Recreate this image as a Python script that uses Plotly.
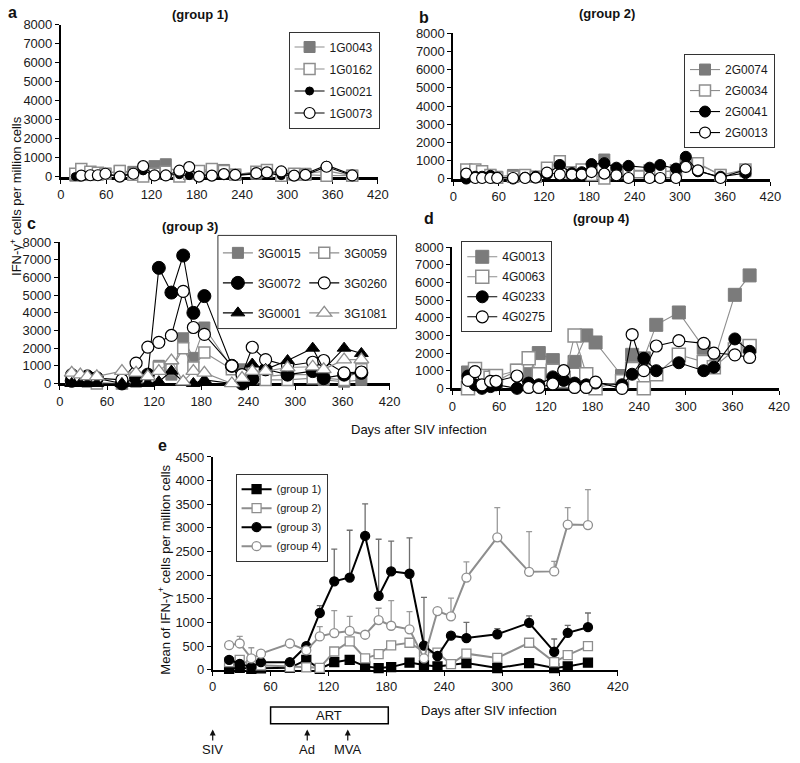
import plotly.graph_objects as go

W, H = 800, 763
FONT = "Liberation Sans, Arial, sans-serif"


def px_x(p):
    return p / W


def px_y(p):
    return 1 - p / H


# ---------------- data ----------------
ticks_x = [0, 60, 120, 180, 240, 300, 360, 420]

# panel a (group 1)
days_a = [19, 27, 39, 49, 59, 78, 96, 109, 124, 139, 157, 170, 183, 200, 216, 231, 259, 273, 292, 309, 324, 352, 386]
g1_0043 = [50, 100, 80, 100, 150, 300, 250, 200, 550, 650, 100, 200, 250, 300, 350, 100, 150, 250, 50, 100, 150, 300, 50]
g1_0162 = [150, 400, 250, 200, 150, 300, 100, 0, 150, 250, 0, 150, 300, 400, 300, 100, 250, 350, 50, 150, 100, 50, 50]
g1_0021 = [0, 50, 50, 80, 100, 50, 150, 300, 100, 100, 100, 50, 80, 100, 100, 50, 150, 200, 50, 100, 150, 600, 100]
g1_0073 = [None, 50, 70, 70, 150, 0, 150, 550, 60, 60, 310, 500, 0, 50, 130, 90, 180, 220, 270, 50, 90, 520, 60]

# panel b (group 2)
days_b = [17, 29, 38, 49, 58, 79, 95, 109, 124, 141, 157, 170, 183, 200, 216, 232, 260, 274, 295, 308, 324, 354, 387]
g2_0074 = [400, 400, 300, 200, 100, 200, 150, 100, 500, 900, 350, 400, 500, 1050, 450, 400, 400, 400, 400, 900, 800, 200, 400]
g2_0034 = [500, 500, 400, 200, 50, 100, 200, 100, 600, 950, 300, 500, 200, 0, 300, 450, 450, 350, 450, 800, 850, 200, 500]
g2_0041 = [0, 100, 100, 150, 50, 0, 50, 100, 250, 750, 300, 350, 800, 850, 600, 700, 600, 750, 550, 1200, 400, 100, 300]
g2_0013 = [270, 30, 30, 30, 30, 30, 30, 50, 330, 220, 220, 220, 360, 270, 180, 30, 30, 30, 30, 640, 450, 30, 500]

# panel c (group 3)
days_c = [15, 26, 35, 47, 79, 97, 112, 126, 142, 157, 170, 184, 219, 232, 245, 262, 290, 322, 336, 362, 384]
g3_0015 = [200, 150, 100, 50, 0, 100, 200, 1000, 500, 2560, 1450, 3170, 900, 800, 400, 400, 500, 500, 200, 100, 200]
g3_0059 = [300, 200, 200, 0, 0, 200, 300, 900, 800, 2000, 900, 1750, 800, 400, 300, 200, 200, 300, 300, 200, 800]
g3_0072 = [150, 250, 400, 300, 0, 300, 500, 6550, 5150, 7250, 4000, 4950, 1000, 0, 250, 800, 500, 700, 300, 500, 600]
g3_0260 = [500, 350, 300, 300, 200, 1150, 2060, 2330, 2720, 5220, 3170, 2780, 1000, 500, 2050, 1350, 1000, 1200, 1300, 600, 650]
g3_0001 = [0, 0, 0, 0, 0, 0, 0, 100, 700, 100, 0, 200, 0, 0, 1100, 800, 1300, 2000, 800, 2000, 1700]
g3_1081 = [600, 500, 400, 400, 700, 600, 400, 700, 1300, 100, 700, 600, 0, 300, 700, 700, 900, 950, 800, 1350, 1350]

# panel d (group 4)
days_d = [20, 29, 38, 49, 56, 83, 98, 111, 129, 143, 157, 172, 184, 218, 231, 246, 262, 291, 323, 336, 363, 382]
g4_0013 = [900, 1000, 600, 500, 400, 1000, 800, 2000, 1600, 600, 1500, 3000, 2600, 700, 1900, 1700, 3600, 4300, 2300, 1500, 5300, 6400]
g4_0063 = [0, 1100, 700, 600, 700, 1000, 1700, 800, 1000, 400, 3000, 800, 0, 400, 1100, 0, 800, 1900, 1500, 1200, 2200, 2400]
g4_0233 = [700, 200, 0, 100, 200, 0, 300, 200, 650, 450, 300, 200, 300, 200, 800, 1700, 1000, 1450, 1000, 1200, 2800, 2100]
g4_0275 = [450, 950, 200, 400, 400, 700, 50, 50, 250, 1000, 50, 50, 350, 0, 3050, 1000, 2400, 2700, 2550, 2000, 1900, 1750]

# panel e (group means)
days_e = [17, 28, 40, 50, 80, 97, 111, 126, 142, 158, 172, 185, 204, 219, 233, 247, 263, 295, 328, 354, 368, 389]
mean_g1 = [20, 40, 20, 30, 40, 210, 20, 160, 210, 70, 35, 55, 150, 100, 70, None, 140, 35, 140, 35, 70, 150]
mean_g2 = [160, 210, 100, 90, 55, 50, 40, 385, 600, 240, 330, 515, 570, 380, 360, 120, 340, 250, 570, 160, 310, 500]
mean_g3 = [210, 125, 55, 160, 160, 500, 1200, 1870, 1950, 2830, 1560, 2080, 2030, 510, 290, 720, 670, 750, 990, 380, 780, 900]
mean_g4 = [520, 555, 240, 340, 555, 410, 705, 775, 820, 740, 1050, 930, 855, 240, 1240, 1130, 1950, 2800, 2070, 2080, 3070, 3060]
err_g3 = [None, None, None, None, None, None, 155, 680, 1000, 680, 1200, 640, 760, 1020, None, None, 330, 120, 150, 270, 160, 300]
err_g4 = [None, 150, 225, None, None, None, 205, 475, 310, None, 250, 530, 375, None, None, 385, 330, 630, 850, 210, 360, 750]

# treatment annotations (days)
art_start, art_end = 60, 182
events = [("SIV", 0), ("Ad", 98), ("MVA", 140)]

# ---------------- styles ----------------
GREY = "#7b7b7b"
LGREY = "#8e8e8e"
STY = {
    "gsq": dict(symbol="square", color=GREY, lc=GREY, lw=1, line=LGREY),
    "osq": dict(symbol="square", color="white", lc=LGREY, lw=1.5, line=LGREY),
    "bci": dict(symbol="circle", color="black", lc="black", lw=1, line="black"),
    "oci": dict(symbol="circle", color="white", lc="black", lw=1.2, line="black"),
    "btr": dict(symbol="triangle-up", color="black", lc="black", lw=1, line="black"),
    "otr": dict(symbol="triangle-up", color="white", lc=LGREY, lw=1.3, line=LGREY),
}

fig = go.Figure()


def add(x, y, name, sty, xa, ya, legend, size=12, lwidth=1.1):
    s = STY[sty]
    fig.add_trace(go.Scatter(
        x=x, y=y, name=name, mode="lines+markers", connectgaps=True,
        xaxis=xa, yaxis=ya, legend=legend, legendgroup=name,
        cliponaxis=False,
        line=dict(color=s["line"], width=lwidth),
        marker=dict(symbol=s["symbol"], size=size, color=s["color"],
                    line=dict(color=s["lc"], width=s["lw"])),
        hoverinfo="skip",
    ))


# panel a
add(days_a, g1_0043, "1G0043", "gsq", "x", "y", "legend", 11)
add(days_a, g1_0162, "1G0162", "osq", "x", "y", "legend", 11)
add(days_a, g1_0021, "1G0021", "bci", "x", "y", "legend", 8)
add(days_a, g1_0073, "1G0073", "oci", "x", "y", "legend", 11)
# panel b
add(days_b, g2_0074, "2G0074", "gsq", "x2", "y2", "legend2", 11)
add(days_b, g2_0034, "2G0034", "osq", "x2", "y2", "legend2", 11)
add(days_b, g2_0041, "2G0041", "bci", "x2", "y2", "legend2", 11)
add(days_b, g2_0013, "2G0013", "oci", "x2", "y2", "legend2", 11)
# panel c (two legend columns)
add(days_c, g3_0015, "3G0015", "gsq", "x3", "y3", "legend3", 11)
add(days_c, g3_0059, "3G0059", "osq", "x3", "y3", "legend4", 11)
add(days_c, g3_0072, "3G0072", "bci", "x3", "y3", "legend3", 13)
add(days_c, g3_0260, "3G0260", "oci", "x3", "y3", "legend4", 12)
add(days_c, g3_0001, "3G0001", "btr", "x3", "y3", "legend3", 12)
add(days_c, g3_1081, "3G1081", "otr", "x3", "y3", "legend4", 13)
# panel d
add(days_d, g4_0013, "4G0013", "gsq", "x4", "y4", "legend5", 13)
add(days_d, g4_0063, "4G0063", "osq", "x4", "y4", "legend5", 13)
add(days_d, g4_0233, "4G0233", "bci", "x4", "y4", "legend5", 12)
add(days_d, g4_0275, "4G0275", "oci", "x4", "y4", "legend5", 12)


# panel e
def add_mean(y, name, sym, fill, col, err=None, ecol=None):
    kw = {}
    if err is not None:
        kw["error_y"] = dict(type="data", symmetric=False, array=err,
                             arrayminus=[None] * len(err), color=ecol,
                             thickness=1.3, width=3)
    fig.add_trace(go.Scatter(
        x=days_e, y=y, name=name, mode="lines+markers", connectgaps=True,
        xaxis="x5", yaxis="y5", legend="legend6", legendgroup=name,
        cliponaxis=False,
        line=dict(color=col, width=2),
        marker=dict(symbol=sym, size=9, color=fill, line=dict(color=col, width=1.3)),
        hoverinfo="skip", **kw,
    ))


add_mean(mean_g1, "(group 1)", "square", "black", "black")
add_mean(mean_g2, "(group 2)", "square", "white", LGREY)
add_mean(mean_g3, "(group 3)", "circle", "black", "black", err_g3, "#6e6e6e")
add_mean(mean_g4, "(group 4)", "circle", "white", LGREY, err_g4, "#9a9a9a")

# ---------------- axes ----------------
tickfont = dict(family=FONT, size=13, color="#1a1a1a")


def xax(dom, anchor, lw=3):
    return dict(domain=dom, anchor=anchor, range=[0, 420], tickvals=ticks_x,
                showline=True, linecolor="black", linewidth=lw, ticks="outside",
                ticklen=4, tickwidth=1.3, tickcolor="black", showgrid=False,
                zeroline=False, tickfont=tickfont, layer="below traces", fixedrange=True)


def yax(dom, anchor, top=8000, dt=1000, lw=2):
    return dict(domain=dom, anchor=anchor, range=[0, top], dtick=dt,
                showline=True, linecolor="black", linewidth=lw, ticks="outside",
                ticklen=4, tickwidth=1.3, tickcolor="black", showgrid=False,
                zeroline=False, tickfont=tickfont, layer="below traces", fixedrange=True)


layout = dict(
    width=W, height=H, autosize=False,
    margin=dict(l=0, r=0, t=0, b=0),
    paper_bgcolor="white", plot_bgcolor="white",
    font=dict(family=FONT, size=13, color="#1a1a1a"),
    xaxis=xax([px_x(58), px_x(381)], "y"),
    yaxis=yax([px_y(173), px_y(18)], "x"),
    xaxis2=xax([px_x(458), px_x(781)], "y2"),
    yaxis2=yax([px_y(175), px_y(27)], "x2"),
    xaxis3=xax([px_x(57), px_x(393)], "y3"),
    yaxis3=yax([px_y(384), px_y(240)], "x3"),
    xaxis4=xax([px_x(457), px_x(790)], "y4"),
    yaxis4=yax([px_y(389), px_y(245)], "x4"),
    xaxis5=xax([px_x(212.7), px_x(625.6)], "y5", lw=1.6),
    yaxis5=yax([px_y(676), px_y(459)], "x5", top=4500, dt=500, lw=1.6),
)

legend_common = dict(xanchor="left", yanchor="top", bgcolor="white",
                     bordercolor="#333", borderwidth=1,
                     font=dict(family=FONT, size=12, color="#1a1a1a"),
                     itemclick=False, itemdoubleclick=False)
layout["legend"] = dict(legend_common, x=px_x(290), y=px_y(25), tracegroupgap=3)
layout["legend2"] = dict(legend_common, x=px_x(693), y=px_y(48), tracegroupgap=2)
layout["legend3"] = dict(legend_common, x=px_x(218), y=px_y(236), tracegroupgap=11,
                         borderwidth=0, bgcolor="rgba(0,0,0,0)")
layout["legend4"] = dict(legend_common, x=px_x(306), y=px_y(236), tracegroupgap=11,
                         borderwidth=0, bgcolor="rgba(0,0,0,0)")
layout["legend5"] = dict(legend_common, x=px_x(466), y=px_y(239), tracegroupgap=1)
layout["legend6"] = dict(legend_common, x=px_x(236), y=px_y(476), tracegroupgap=0,
                         font=dict(family=FONT, size=11, color="#1a1a1a"))
fig.update_layout(**layout)

# legend box for panel c (two columns)
fig.add_shape(type="rect", xref="paper", yref="paper",
              x0=px_x(218), x1=px_x(400), y0=px_y(328), y1=px_y(233),
              line=dict(color="#333", width=1), fillcolor="white", layer="above")

# ---------------- text ----------------
ann = []


def txt(t, x, y, size=13, bold=False, angle=0, xanchor="center"):
    ann.append(dict(text=f"<b>{t}</b>" if bold else t, x=px_x(x), y=px_y(y),
                    xref="paper", yref="paper", showarrow=False, textangle=angle,
                    xanchor=xanchor, yanchor="middle",
                    font=dict(family=FONT, size=size, color="#111")))


txt("a", 9, 6, 16, True)
txt("(group 1)", 200, 8, 13, True)
txt("b", 428, 11, 16, True)
txt("(group 2)", 615, 7, 13, True)
txt("c", 28, 221, 16, True)
txt("(group 3)", 190, 224, 13, True)
txt("d", 433, 216, 16, True)
txt("(group 4)", 608, 216, 13, True)
txt("e", 162, 447, 16, True)
txt("IFN-γ<sup>+</sup> cells per million cells", 12, 193, 13, angle=-90)
txt("Days after SIV infection", 423, 431, 13)
txt("Mean of IFN-γ<sup>+</sup> cells per million cells", 163, 574, 13, angle=-90)
txt("Days after SIV infection", 494, 718, 13)

# ART box and event arrows (in day units on panel e x-axis)
fig.add_shape(type="rect", xref="x5", yref="paper", x0=art_start, x1=art_end,
              y0=px_y(731), y1=px_y(714), line=dict(color="black", width=1.5),
              fillcolor="white")
ann.append(dict(text="ART", x=(art_start + art_end) / 2, y=px_y(722.5), xref="x5",
                yref="paper", showarrow=False, yanchor="middle",
                font=dict(family=FONT, size=13, color="#111")))
for label, d in events:
    ann.append(dict(text=label, x=d, y=px_y(737), xref="x5", yref="paper",
                    ax=0, ay=20, axref="pixel", ayref="pixel",
                    showarrow=True, arrowhead=2, arrowsize=1, arrowwidth=1.2,
                    arrowcolor="#111", standoff=0, startstandoff=0,
                    font=dict(family=FONT, size=13, color="#111")))

fig.update_layout(annotations=ann)
fig.write_html("out.html", config={"displayModeBar": False},
               post_script="document.body.style.margin='0px';")
